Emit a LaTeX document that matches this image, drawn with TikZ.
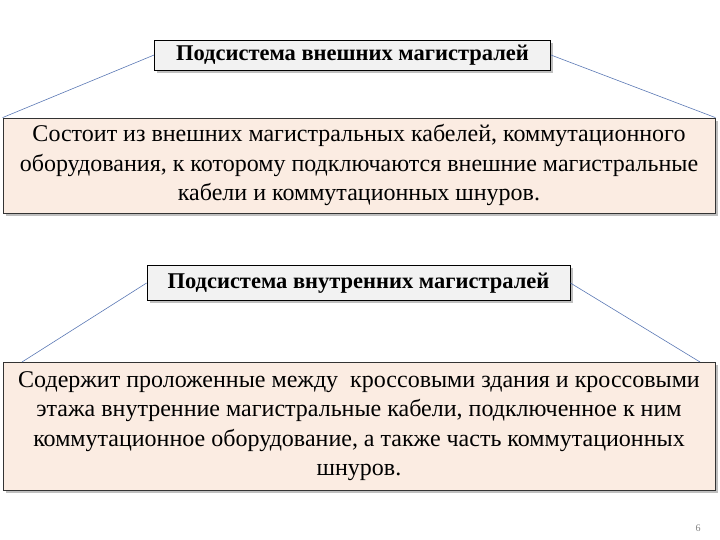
\documentclass[tikz,border=0pt]{standalone}
\usepackage{fontspec}
\setmainfont{Liberation Serif}
\begin{document}
\begin{tikzpicture}[x=1pt,y=-1pt,
 titlebox/.style={draw=black,fill=gray!10,line width=0.8pt,inner sep=0pt,font=\fontsize{22.5}{26}\selectfont\bfseries},
 bodybox/.style={draw=black!80,fill={rgb,255:red,251;green,236;blue,226},line width=0.8pt,inner sep=0pt,font=\fontsize{24}{29.5}\selectfont,align=center},
 conn/.style={draw={rgb,255:red,90;green,120;blue,180},line width=0.6pt}]
\useasboundingbox (0,0) rectangle (720,540);
\fill[gray!50] (157,43) rectangle (553,73);
\node[titlebox,minimum width=396pt,minimum height=30pt] (t1) at (352.5,55) {Подсистема внешних магистралей};
\fill[gray!50] (6,121) rectangle (718,216);
\node[bodybox,minimum width=712pt,minimum height=95pt] (b1) at (359,165.5) {Состоит из внешних магистральных кабелей, коммутационного\\оборудования, к которому подключаются внешние магистральные\\кабели и коммутационных шнуров.};
\draw[conn] (t1.west) -- (b1.north west);
\draw[conn] (t1.east) -- (b1.north east);
\fill[gray!50] (150,268) rectangle (573,303);
\node[titlebox,minimum width=423pt,minimum height=35pt] (t2) at (358.5,283) {Подсистема внутренних магистралей};
\fill[gray!50] (6,365) rectangle (718,493);
\node[bodybox,minimum width=712pt,minimum height=128pt] (b2) at (359,426) {Содержит проложенные между\ \ кроссовыми здания и кроссовыми\\этажа внутренние магистральные кабели, подключенное к ним\\коммутационное оборудование, а также часть коммутационных\\шнуров.};
\coordinate (l2) at (22,362);
\coordinate (r2) at (700,362);
\draw[conn] (t2.west) -- (l2);
\draw[conn] (t2.east) -- (r2);
\node[text=gray,font=\fontsize{10}{12}\selectfont] (pg) at (698,528) {6};
\end{tikzpicture}
\end{document}
